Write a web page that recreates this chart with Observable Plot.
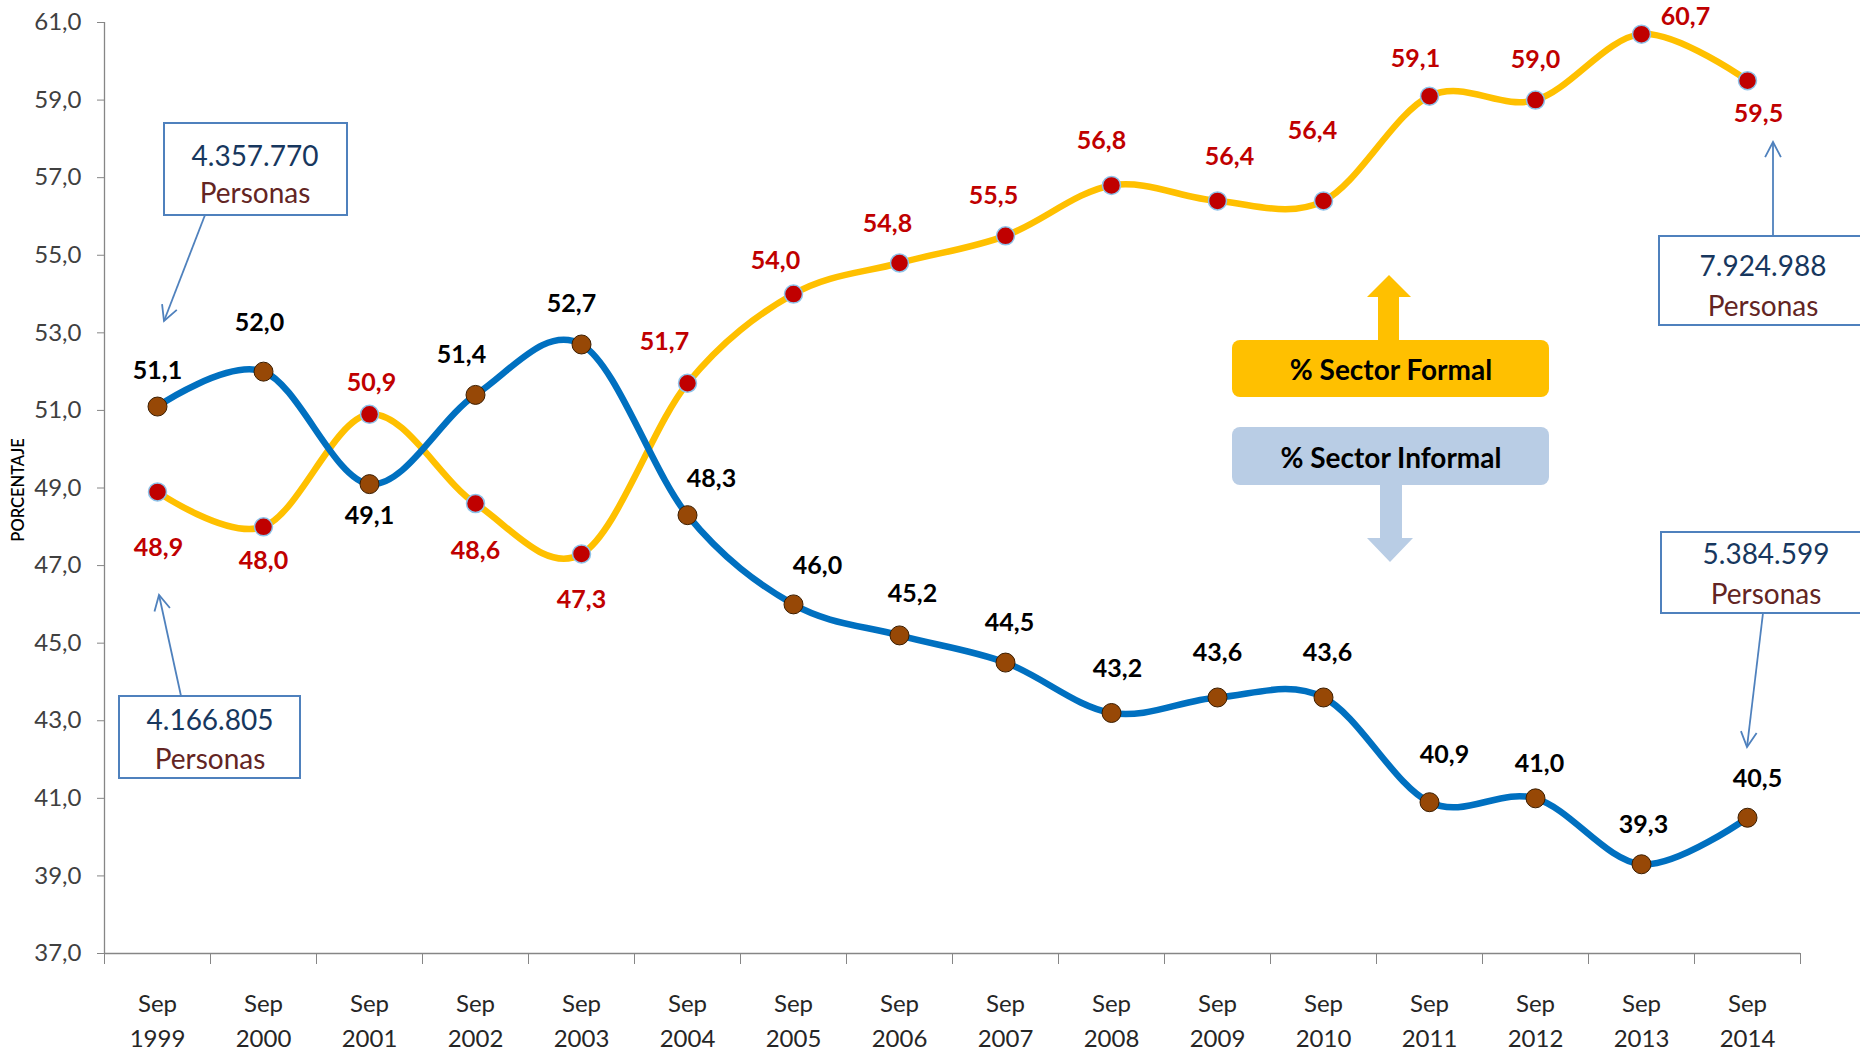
<!DOCTYPE html>
<html>
<head>
<meta charset="utf-8">
<script src="https://cdn.jsdelivr.net/npm/d3@7"></script>
<script src="https://cdn.jsdelivr.net/npm/@observablehq/plot@0.6"></script>
<style>
  html, body { margin: 0; padding: 0; background: #fff; overflow: hidden; }
  #chart svg { display: block; }
</style>
</head>
<body>
<div id="chart"></div>
<script>
// ---------------- DATA ----------------
const years = [1999, 2000, 2001, 2002, 2003, 2004, 2005, 2006, 2007, 2008, 2009, 2010, 2011, 2012, 2013, 2014];
const informal = [51.1, 52.0, 49.1, 51.4, 52.7, 48.3, 46.0, 45.2, 44.5, 43.2, 43.6, 43.6, 40.9, 41.0, 39.3, 40.5];
const formal   = [48.9, 48.0, 50.9, 48.6, 47.3, 51.7, 54.0, 54.8, 55.5, 56.8, 56.4, 56.4, 59.1, 59.0, 60.7, 59.5];
const yTicks = [37, 39, 41, 43, 45, 47, 49, 51, 53, 55, 57, 59, 61];
const tickMonth = "Sep";
const yLabel = "PORCENTAJE";
const legendLabels = ["% Sector Formal", "% Sector Informal"];
const calloutNumbers = ["4.357.770", "4.166.805", "7.924.988", "5.384.599"];
const calloutUnit = "Personas";

// ---------------- LAYOUT (label offsets in px) ----------------
const informalOffsets = [[0,-36],[-4,-49],[0,32],[-14,-40],[-10,-40],[24,-36],[24,-38],[13,-41],[4,-40],[6,-44],[0,-44],[4,-44],[15,-47],[4,-34],[2,-39],[10,-39]];
const formalOffsets   = [[1,56],[0,34],[2,-31],[0,47],[0,46],[-23,-41],[-18,-33],[-12,-39],[-12,-40],[-10,-44],[12,-44],[-11,-70],[-14,-37],[0,-40],[44,-17],[11,33]];

const fmt = v => v.toFixed(1).replace(".", ",");
const informalRows = years.map((year, i) => ({year, value: informal[i]}));
const formalRows = years.map((year, i) => ({year, value: formal[i]}));
const xDomain = [years[0] - 0.5, years[years.length - 1] + 0.5];
const yDomain = [yTicks[0], yTicks[yTicks.length - 1]];
const boundaries = years.map(y => y - 0.5).concat([years[years.length - 1] + 0.5]);

const FONT = "Lato, 'Open Sans', sans-serif";
const BLUE = "#0070C0", YELLOW = "#FFC000", BROWN = "#974806", RED = "#C00000";

const labelMarks = [
  ...formalRows.map((d, i) => Plot.text([d], {x: "year", y: "value", text: r => fmt(r.value),
      dx: formalOffsets[i][0], dy: formalOffsets[i][1], fill: RED, fontWeight: "bold", fontSize: 25})),
  ...informalRows.map((d, i) => Plot.text([d], {x: "year", y: "value", text: r => fmt(r.value),
      dx: informalOffsets[i][0], dy: informalOffsets[i][1], fill: "#000", fontWeight: "bold", fontSize: 25}))
];

const chart = Plot.plot({
  width: 1860,
  height: 1051,
  marginLeft: 104,
  marginRight: 60,
  marginTop: 22,
  marginBottom: 98,
  style: {fontFamily: FONT, background: "#fff", overflow: "visible"},
  x: {domain: xDomain},
  y: {domain: yDomain},
  marks: [
    Plot.ruleX([xDomain[0]], {stroke: "#868686", strokeWidth: 1.3}),
    Plot.ruleY([yDomain[0]], {stroke: "#868686", strokeWidth: 1.3}),
    Plot.axisY({ticks: yTicks, tickSize: 7, tickPadding: 16, tickFormat: fmt, fontSize: 24,
                stroke: "#868686", fill: "#404040", label: null}),
    Plot.axisX({ticks: boundaries, tickSize: 11, tickFormat: () => "", stroke: "#868686", label: null}),
    Plot.axisX({ticks: years, tickSize: 0, tickPadding: 33, tickFormat: d => tickMonth + "\n" + d,
                fontSize: 24, lineHeight: 1.48, fill: "#262626", label: null}),
    Plot.line(formalRows, {x: "year", y: "value", curve: "cardinal", stroke: YELLOW, strokeWidth: 6.5}),
    Plot.line(informalRows, {x: "year", y: "value", curve: "cardinal", stroke: BLUE, strokeWidth: 6.5}),
    Plot.dot(formalRows, {x: "year", y: "value", r: 9, fill: RED, stroke: "#8DC3EA", strokeWidth: 1.5}),
    Plot.dot(informalRows, {x: "year", y: "value", r: 9.5, fill: BROWN, stroke: "#3b1d00", strokeWidth: 1}),
    ...labelMarks
  ]
});
document.getElementById("chart").appendChild(chart);

// ---------------- ANNOTATIONS ----------------
const svg = d3.select(chart);
const g = svg.append("g").attr("font-family", FONT);
const CB = "#4F81BD";

// y axis title
g.append("text").attr("transform", "translate(20,490) rotate(-90)")
  .attr("text-anchor", "middle").attr("dominant-baseline", "middle")
  .attr("font-size", 16.5).attr("font-weight", 600).attr("fill", "#000").text(yLabel);

function arrow(x1, y1, x2, y2) {
  g.append("line").attr("x1", x1).attr("y1", y1).attr("x2", x2).attr("y2", y2)
    .attr("stroke", CB).attr("stroke-width", 1.8);
  const ang = Math.atan2(y2 - y1, x2 - x1), L = 17, a = Math.PI / 6.5;
  const p1 = [x2 - L * Math.cos(ang - a), y2 - L * Math.sin(ang - a)];
  const p2 = [x2 - L * Math.cos(ang + a), y2 - L * Math.sin(ang + a)];
  g.append("polyline").attr("points", `${p1} ${x2},${y2} ${p2}`)
    .attr("fill", "none").attr("stroke", CB).attr("stroke-width", 1.8);
}

const callouts = [
  {box: [164, 123, 347, 215], cx: 255, ty: [155, 192], arrow: [205, 215, 164, 321]},
  {box: [119, 696, 300, 778], cx: 210, ty: [719, 758], arrow: [181, 696, 159, 595]},
  {box: [1659, 236, 1880, 325], cx: 1763, ty: [265, 305], arrow: [1773, 236, 1773, 142]},
  {box: [1661, 532, 1880, 613], cx: 1766, ty: [553, 593], arrow: [1763, 613, 1747, 747]}
];
callouts.forEach((c, i) => {
  const [x0, y0, x1, y1] = c.box;
  g.append("rect").attr("x", x0).attr("y", y0).attr("width", x1 - x0).attr("height", y1 - y0)
    .attr("fill", "#fff").attr("stroke", CB).attr("stroke-width", 2);
  g.append("text").attr("x", c.cx).attr("y", c.ty[0]).attr("text-anchor", "middle")
    .attr("dominant-baseline", "central").attr("font-size", 28).attr("fill", "#17375E").text(calloutNumbers[i]);
  g.append("text").attr("x", c.cx).attr("y", c.ty[1]).attr("text-anchor", "middle")
    .attr("dominant-baseline", "central").attr("font-size", 28).attr("fill", "#632523").text(calloutUnit);
  arrow(...c.arrow);
});

// legend boxes with arrows
g.append("polygon").attr("points", "1378,341 1378,297 1367,297 1389,275 1411,297 1399,297 1399,341").attr("fill", YELLOW);
g.append("rect").attr("x", 1232).attr("y", 340).attr("width", 317).attr("height", 57).attr("rx", 8).attr("fill", YELLOW);
g.append("text").attr("x", 1391).attr("y", 369).attr("text-anchor", "middle").attr("dominant-baseline", "central")
  .attr("font-size", 28).attr("font-weight", "bold").attr("fill", "#000").text(legendLabels[0]);
g.append("polygon").attr("points", "1380,484 1380,538 1367,538 1390,562 1413,538 1402,538 1402,484").attr("fill", "#B9CDE5");
g.append("rect").attr("x", 1232).attr("y", 427).attr("width", 317).attr("height", 58).attr("rx", 8).attr("fill", "#B9CDE5");
g.append("text").attr("x", 1391).attr("y", 457).attr("text-anchor", "middle").attr("dominant-baseline", "central")
  .attr("font-size", 28).attr("font-weight", "bold").attr("fill", "#000").text(legendLabels[1]);
</script>
</body>
</html>
